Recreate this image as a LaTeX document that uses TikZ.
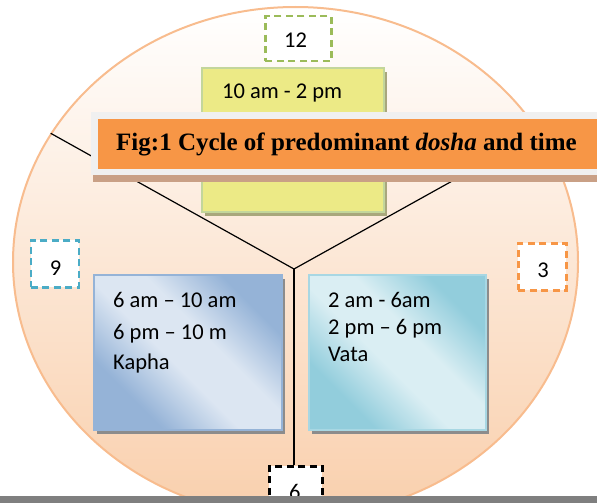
\documentclass[tikz,border=0pt]{standalone}
\usepackage{fontspec}
\setmainfont{Liberation Serif}
\newfontfamily\calfont{Carlito}
\usetikzlibrary{shadows}
\definecolor{ringline}{HTML}{F8BC8E}
\definecolor{peach}{HTML}{F9CFAC}
\definecolor{ylwfill}{HTML}{ECEA86}
\definecolor{ylwline}{HTML}{C3D69B}
\definecolor{kdark}{HTML}{95B3D7}
\definecolor{klight}{HTML}{DCE6F2}
\definecolor{vdark}{HTML}{92CDDC}
\definecolor{vlight}{HTML}{DAEEF3}
\definecolor{orng}{HTML}{F79646}
\definecolor{bandgray}{HTML}{F0F0F0}
\definecolor{tan}{HTML}{C9A086}
\definecolor{boxshadow}{HTML}{8C8C8C}
\definecolor{yshadow}{HTML}{A9A77C}
\definecolor{dgreen}{HTML}{9BBB59}
\definecolor{dblue}{HTML}{4BACC6}
\definecolor{barg}{HTML}{7F7F7F}
\pgfdeclarehorizontalshading{kaphash}{100bp}{color(0bp)=(kdark); color(29bp)=(kdark); color(45bp)=(klight); color(57bp)=(klight); color(73bp)=(kdark); color(100bp)=(kdark)}
\pgfdeclarehorizontalshading{vatash}{100bp}{color(0bp)=(vdark); color(29bp)=(vdark); color(45bp)=(vlight); color(57bp)=(vlight); color(73bp)=(vdark); color(100bp)=(vdark)}
\begin{document}
\begin{tikzpicture}[x=1pt,y=-1pt,
  numbox/.style={draw, fill=white, line width=2.5pt, dash pattern=on 7pt off 4.5pt, minimum width=48pt, minimum height=47pt, inner sep=0pt, anchor=north west},
  numtxt/.style={font=\calfont\fontsize{22.5}{26}\selectfont, inner sep=0pt, anchor=base},
  boxtxt/.style={font=\calfont\fontsize{22.5}{26}\selectfont, inner sep=0pt, anchor=base west},
  panel/.style={line width=2pt, inner sep=0pt, anchor=north west},
  spoke/.style={draw=black, line width=1.2pt}]
\useasboundingbox (0,0) rectangle (597,503);
\clip (0,0) rectangle (597,503);
% ring
\shade[top color=white, bottom color=peach] (295.5,262) ellipse [x radius=282.5, y radius=255];
\draw[ringline, line width=2pt] (295.5,262) ellipse [x radius=282.5, y radius=255];
% spokes
\coordinate (j) at (294,269);
\coordinate (le) at (50.7,133.3);
\coordinate (re) at (538,133.3);
% boxes
\node[panel, draw=ylwline, fill=ylwfill, minimum width=182pt, minimum height=144pt,
  drop shadow={shadow xshift=3pt, shadow yshift=-4pt, fill=yshadow, opacity=1}] (pitta) at (201,67) {};
\node[panel, draw=kdark, shading=kaphash, shading angle=45, minimum width=188pt, minimum height=155pt,
  drop shadow={shadow xshift=3pt, shadow yshift=-4pt, fill=boxshadow, opacity=1}] (kapha) at (93,274) {};
\node[panel, draw=vdark!80, shading=vatash, shading angle=45, minimum width=177pt, minimum height=155pt,
  drop shadow={shadow xshift=3pt, shadow yshift=-4pt, fill=boxshadow, opacity=1}] (vata) at (308,274) {};
\node[boxtxt] (p1) at (222,99) {10 am - 2 pm};
\node[boxtxt] (k1) at (113,307) {6 am – 10 am};
\node[boxtxt] (k2) at (113,339) {6 pm – 10 m};
\node[boxtxt] (k3) at (113,369) {Kapha};
\node[boxtxt] (v1) at (328,307) {2 am - 6am};
\node[boxtxt] (v2) at (328,334) {2 pm – 6 pm};
\node[boxtxt] (v3) at (328,361.5) {Vata};
% number boxes
\node[numbox, draw=dgreen, minimum width=66pt, minimum height=45pt] (b12) at (264,15) {};
\node[numbox, draw=dblue] (b9) at (29.5,239) {};
\node[numbox, draw=orng] (b3) at (517,242) {};
\node[numbox, draw=black, minimum width=53pt, minimum height=45pt] (b6) at (268,465) {};
\node[numtxt] (t12) at (295.5,47.7) {12};
\node[numtxt] (t9) at (55.7,275) {9};
\node[numtxt] (t3) at (543,277.3) {3};
\node[numtxt] (t6) at (294.7,499.5) {6};
\draw[spoke] (le) -- (j) -- (re);
\draw[spoke] (j) -- (b6.north -| j);
% title band
\node[anchor=north west, fill=bandgray, minimum width=510pt, minimum height=63pt, inner sep=0pt,
  drop shadow={shadow xshift=2pt, shadow yshift=-7pt, fill=tan, opacity=1}] (band) at (91,112) {};
\node[anchor=north west, fill=orng, minimum width=505pt, minimum height=50pt, inner sep=0pt] (bandin) at (98,119) {};
\node[anchor=base west, inner sep=0pt, font=\fontsize{25}{30}\selectfont\bfseries] (title) at (116,150) {Fig:1 Cycle of predominant \textit{dosha} and time};
% bottom bar
\fill[barg] (0,496) rectangle (597,503);
\end{tikzpicture}
\end{document}
